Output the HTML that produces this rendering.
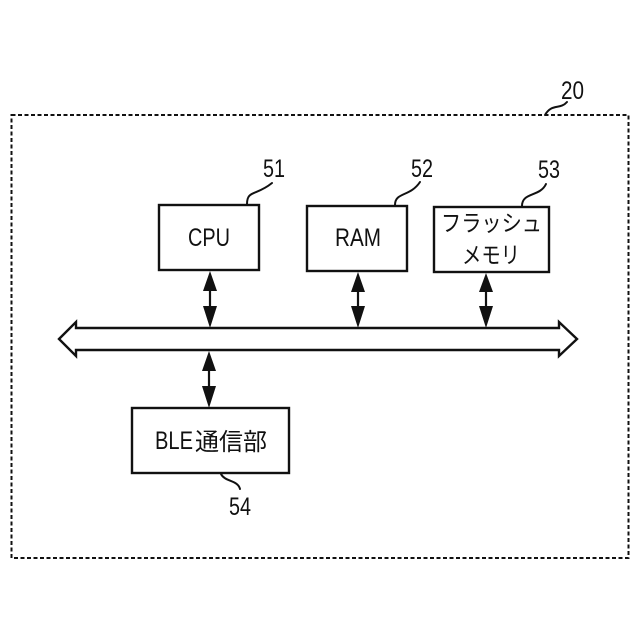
<!DOCTYPE html>
<html><head><meta charset="utf-8"><style>
html,body{margin:0;padding:0;background:#fff}
svg{display:block}
text{font-family:"Liberation Sans","Noto Sans CJK JP",sans-serif;fill:#111}
</style></head><body>
<svg width="640" height="640" viewBox="0 0 640 640" xmlns="http://www.w3.org/2000/svg">
<rect x="11.5" y="115" width="617" height="443" fill="none" stroke="#111" stroke-width="2" stroke-dasharray="4 2.500"/>
<g fill="#fff" stroke="#111" stroke-width="2.4">
<rect x="159" y="205" width="100" height="65"/>
<rect x="307" y="206" width="100" height="65"/>
<rect x="434" y="207" width="115" height="65"/>
<rect x="132" y="408" width="157" height="65"/>
</g>
<path d="M59 339 L76 322 L76 328 L559 328 L559 322 L577 339 L559 356 L559 350 L76 350 L76 356 Z" fill="#fff" stroke="#111" stroke-width="2.4" stroke-linejoin="miter"/>
<g stroke="#111" stroke-width="2.200" fill="none">
<line x1="210" y1="285" x2="210" y2="310"/>
<line x1="358" y1="285" x2="358" y2="310"/>
<line x1="486" y1="285" x2="486" y2="310"/>
<line x1="209" y1="365" x2="209" y2="390"/>
</g>
<g fill="#111">
<path d="M210 271L203 291H217ZM210 328L203 306H217Z"/>
<path d="M358 272L351 292H365ZM358 328L351 306H365Z"/>
<path d="M486 273L479 292H493ZM486 328L479 306H493Z"/>
<path d="M209 351L202 371H216ZM209 408L202 386H216Z"/>
</g>
<g stroke="#111" stroke-width="2" fill="none" stroke-linecap="round">
<path d="M247 204C247 190 256 196 272 183"/>
<path d="M395 205C395 192 410 197 420 182"/>
<path d="M522 206C522 192 540 197 546 184"/>
<path d="M221 474C225 482 238 480 240 489"/>
<path d="M545 115C552 103 560 110 567 102"/>
</g>
<g font-size="25">
<text x="263" y="177" textLength="22" lengthAdjust="spacingAndGlyphs">51</text>
<text x="411" y="177" textLength="22" lengthAdjust="spacingAndGlyphs">52</text>
<text x="538" y="178" textLength="22" lengthAdjust="spacingAndGlyphs">53</text>
<text x="229" y="515" textLength="22" lengthAdjust="spacingAndGlyphs">54</text>
<text x="561" y="99" textLength="23" lengthAdjust="spacingAndGlyphs">20</text>
<text x="188" y="246" textLength="42" lengthAdjust="spacingAndGlyphs">CPU</text>
<text x="335" y="246" textLength="46" lengthAdjust="spacingAndGlyphs">RAM</text>
<text x="155" y="449" textLength="38" lengthAdjust="spacingAndGlyphs">BLE</text>
</g>
<text x="441" y="231" font-size="23" textLength="101" lengthAdjust="spacingAndGlyphs">フラッシュ</text>
<text x="462" y="263" font-size="23" textLength="58" lengthAdjust="spacingAndGlyphs">メモリ</text>
<text x="195" y="450" font-size="24" textLength="72" lengthAdjust="spacingAndGlyphs">通信部</text>
</svg>
</body></html>
